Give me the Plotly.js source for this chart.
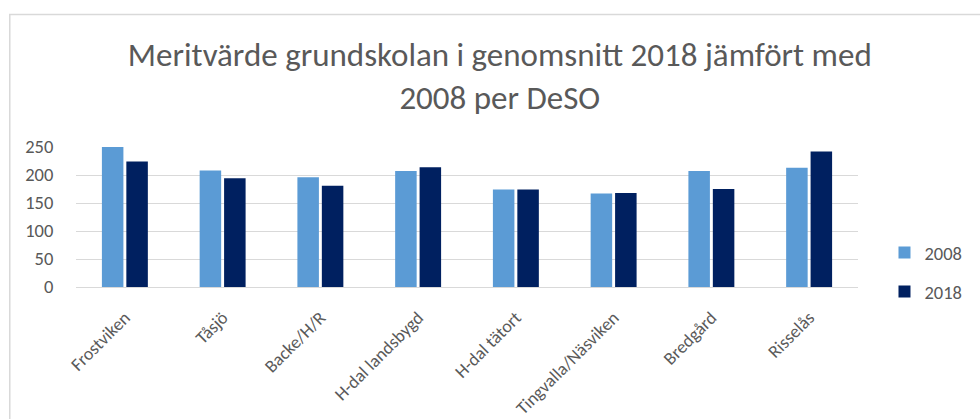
<!DOCTYPE html>
<html>
<head>
<meta charset="utf-8">
<script src="https://cdn.plot.ly/plotly-3.0.1.min.js"></script>
<style>
html,body{margin:0;padding:0;background:#fff;overflow:hidden;}
#chart{width:980px;height:419px;}
</style>
</head>
<body>
<div id="chart"></div>
<script>
const categories = ["Frostviken", "Tåsjö", "Backe/H/R", "H-dal landsbygd", "H-dal tätort", "Tingvalla/Näsviken", "Bredgård", "Risselås"];
const values2008 = [251, 208, 196, 207, 174, 167, 207, 213];
const values2018 = [224, 194, 181, 214, 174, 168, 175, 242];
const yTicks = [0, 50, 100, 150, 200, 250];

const FONT = "Calibri, Carlito, 'Open Sans', sans-serif";
const TXT = "#595959";

const traces = [
  {type: "bar", name: "2008", x: categories, y: values2008, marker: {color: "#5b9bd5"}, legendgroup: "a"},
  {type: "bar", name: "2018", x: categories, y: values2018, marker: {color: "#002060"}, legendgroup: "b"}
];

const L = 76, R = 873, T = 147, B = 287;
const W = 980, H = 419;
const pw = R - L, ph = B - T;
function px2x(p){ return (p - L) / pw; }
function px2y(p){ return (B - p) / ph; }

const layout = {
  width: W, height: H,
  margin: {l: L, r: W - R, t: T, b: H - B, pad: 0},
  paper_bgcolor: "#fff", plot_bgcolor: "#fff",
  font: {family: FONT, color: TXT},
  title: {text: "Meritvärde grundskolan i genomsnitt 2018 jämfört med<br>2008 per DeSO",
          font: {size: 33, color: TXT, family: FONT},
          x: 0.51, xref: "container", xanchor: "center", y: 1 - 66/419, yref: "container", yanchor: "middle"},
  barmode: "group", bargap: 0.5, bargroupgap: 0.12,
  xaxis: {tickangle: -45, tickfont: {size: 18, color: TXT}, showline: true, linecolor: "#d9d9d9", ticks: "outside", ticklen: 12, tickcolor: "rgba(0,0,0,0)", automargin: false, fixedrange: true},
  yaxis: {range: [0, 250], tickvals: yTicks, tickfont: {size: 18.5, color: TXT}, gridcolor: "#d9d9d9", zeroline: false, showline: false, ticks: "outside", ticklen: 18, tickcolor: "rgba(0,0,0,0)", automargin: false, fixedrange: true},
  legend: {x: px2x(900), y: px2y(234), xanchor: "left", yanchor: "top", font: {size: 18.5, color: TXT}, tracegroupgap: 12, bgcolor: "rgba(0,0,0,0)"},
  showlegend: true,
  shapes: [{type: "rect", xref: "paper", yref: "paper", x0: px2x(8.5), x1: px2x(1010), y0: px2y(440), y1: px2y(14.5), line: {color: "#d9d9d9", width: 1.5}, fillcolor: "rgba(0,0,0,0)", layer: "below"}]
};

Plotly.newPlot("chart", traces, layout, {displayModeBar: false, staticPlot: true});
</script>
</body>
</html>
